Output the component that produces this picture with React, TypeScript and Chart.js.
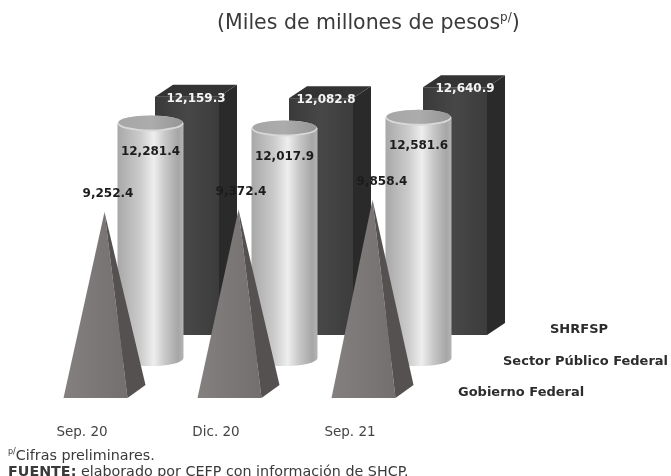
import React, { useEffect, useRef } from "react";
import { Chart, registerables } from "chart.js";

Chart.register(...registerables);

const categories = ["Sep. 20", "Dic. 20", "Sep. 21"];
const shrfsp = [12159.3, 12082.8, 12640.9];
const sectorPublico = [12281.4, 12017.9, 12581.6];
const gobierno = [9252.4, 9372.4, 9858.4];

const FONT = "'DejaVu Sans', sans-serif";
const fmt = (v: number) =>
  v.toLocaleString("en-US", { minimumFractionDigits: 1, maximumFractionDigits: 1 });

const solidsPlugin = {
  id: "solids",
  afterDatasetsDraw(chart: any) {
    const ctx = chart.ctx as CanvasRenderingContext2D;
    const box = chart.getDatasetMeta(0).data;
    const cyl = chart.getDatasetMeta(1).data;
    const pyr = chart.getDatasetMeta(2).data;
    const depthX = 18;
    const depthY = -12;
    ctx.save();

    box.forEach((el: any) => {
      const x0 = el.x + 105 - el.width / 2;
      const x1 = x0 + el.width;
      const g = ctx.createLinearGradient(x0, 0, x1, 0);
      g.addColorStop(0, "#3a3a3a");
      g.addColorStop(0.5, "#474747");
      g.addColorStop(1, "#3c3c3c");
      ctx.fillStyle = g;
      ctx.fillRect(x0, el.y, x1 - x0, el.base - el.y);
      ctx.fillStyle = "#2a2a2a";
      ctx.beginPath();
      ctx.moveTo(x1, el.y);
      ctx.lineTo(x1 + depthX, el.y + depthY);
      ctx.lineTo(x1 + depthX, el.base + depthY);
      ctx.lineTo(x1, el.base);
      ctx.closePath();
      ctx.fill();
      ctx.fillStyle = "#333333";
      ctx.beginPath();
      ctx.moveTo(x0, el.y);
      ctx.lineTo(x0 + depthX, el.y + depthY);
      ctx.lineTo(x1 + depthX, el.y + depthY);
      ctx.lineTo(x1, el.y);
      ctx.closePath();
      ctx.fill();
    });

    cyl.forEach((el: any) => {
      const cx = el.x + 68.5;
      const rx = el.width / 2;
      const ry = 8;
      const g = ctx.createLinearGradient(cx - rx, 0, cx + rx, 0);
      g.addColorStop(0, "#a8a8a8");
      g.addColorStop(0.12, "#b4b4b4");
      g.addColorStop(0.35, "#cccccc");
      g.addColorStop(0.55, "#eeeeee");
      g.addColorStop(0.72, "#c8c8c8");
      g.addColorStop(0.92, "#a6a6a6");
      g.addColorStop(1, "#b4b4b4");
      ctx.fillStyle = g;
      ctx.beginPath();
      ctx.moveTo(cx - rx, el.y);
      ctx.lineTo(cx - rx, el.base);
      ctx.ellipse(cx, el.base, rx, ry, 0, Math.PI, 0, true);
      ctx.lineTo(cx + rx, el.y);
      ctx.closePath();
      ctx.fill();
      ctx.fillStyle = "#d8d8d8";
      ctx.beginPath();
      ctx.ellipse(cx, el.y, rx, ry, 0, 0, Math.PI * 2);
      ctx.fill();
      const t = ctx.createLinearGradient(cx - rx, 0, cx + rx, 0);
      t.addColorStop(0, "#a6a6a6");
      t.addColorStop(0.5, "#acacac");
      t.addColorStop(1, "#959595");
      ctx.fillStyle = t;
      ctx.beginPath();
      ctx.ellipse(cx, el.y - 1, rx - 1, ry - 1, 0, 0, Math.PI * 2);
      ctx.fill();
    });

    pyr.forEach((el: any) => {
      const x0 = el.x + 13.5 - el.width / 2;
      const x1 = x0 + el.width;
      const apex = (x0 + x1 + depthX) / 2;
      const g = ctx.createLinearGradient(x0, 0, x1, 0);
      g.addColorStop(0, "#858080");
      g.addColorStop(1, "#746f6f");
      ctx.fillStyle = g;
      ctx.beginPath();
      ctx.moveTo(x0, el.base);
      ctx.lineTo(x1, el.base);
      ctx.lineTo(apex, el.y);
      ctx.closePath();
      ctx.fill();
      ctx.fillStyle = "#565151";
      ctx.beginPath();
      ctx.moveTo(x1, el.base);
      ctx.lineTo(x1 + depthX, el.base + depthY - 1);
      ctx.lineTo(apex, el.y);
      ctx.closePath();
      ctx.fill();
    });

    ctx.textAlign = "center";
    ctx.textBaseline = "middle";
    ctx.font = `bold 12px ${FONT}`;
    const boxShift = [114, 110, 115];
    const pyrShift = [26, 25, 32];
    ctx.fillStyle = "#f4f4f4";
    box.forEach((el: any, i: number) => ctx.fillText(fmt(shrfsp[i]), el.x + boxShift[i], el.y + 2));
    ctx.fillStyle = "#1c1c1c";
    cyl.forEach((el: any, i: number) => ctx.fillText(fmt(sectorPublico[i]), el.x + 68.5, el.y + 28));
    pyr.forEach((el: any, i: number) => ctx.fillText(fmt(gobierno[i]), el.x + pyrShift[i], el.y - 18));

    ctx.textAlign = "left";
    ctx.font = `bold 13px ${FONT}`;
    ctx.fillStyle = "#2c2c2c";
    ctx.fillText(chart.data.datasets[0].label, 550, 330);
    ctx.fillText(chart.data.datasets[1].label, 503, 362);
    ctx.fillText(chart.data.datasets[2].label, 458, 393);
    ctx.restore();
  },
};

export default function App() {
  const ref = useRef<HTMLCanvasElement | null>(null);
  useEffect(() => {
    document.body.style.margin = "0";
    const chart = new Chart(ref.current as HTMLCanvasElement, {
      type: "bar",
      data: {
        labels: categories,
        datasets: [
          { label: "SHRFSP", data: shrfsp, yAxisID: "yBox", backgroundColor: "transparent", barPercentage: 64 / 134, categoryPercentage: 1 },
          { label: "Sector Público Federal", data: sectorPublico, yAxisID: "yCyl", backgroundColor: "transparent", barPercentage: 66 / 134, categoryPercentage: 1 },
          { label: "Gobierno Federal", data: gobierno, yAxisID: "yPyr", backgroundColor: "transparent", barPercentage: 64 / 134, categoryPercentage: 1 },
        ],
      },
      options: {
        responsive: false,
        animation: false,
        layout: { padding: { left: 15, right: 254, top: 60, bottom: 0 } },
        plugins: { legend: { display: false }, tooltip: { enabled: false } },
        datasets: { bar: { grouped: false } },
        scales: {
          x: {
            grid: { display: false },
            border: { display: false },
            afterFit: (s: any) => { s.height = 76; },
            ticks: { color: "#444444", padding: 16, maxRotation: 0, font: { family: FONT, size: 13.5 } },
          },
          yBox: { display: false, min: -3316, max: 14031 },
          yCyl: { display: false, min: -2199, max: 15602 },
          yPyr: { display: false, min: -99.5, max: 16816 },
        },
      } as any,
      plugins: [solidsPlugin],
    });
    return () => chart.destroy();
  }, []);
  const text: React.CSSProperties = { position: "absolute", fontFamily: FONT, color: "#3a3a3a", whiteSpace: "nowrap" };
  return (
    <div style={{ position: "relative", width: 671, height: 476, overflow: "hidden" }}>
      <canvas ref={ref} width={671} height={476} style={{ display: "block" }} />
      <div style={{ ...text, left: 217, top: 10, fontSize: 20.5 }}>
        (Miles de millones de pesos<sup style={{ fontSize: 12, lineHeight: 0 }}>p/</sup>)
      </div>
      <div style={{ ...text, left: 8, top: 447, fontSize: 14.3 }}>
        <sup style={{ fontSize: 8, lineHeight: 0 }}>p/</sup>Cifras preliminares.
      </div>
      <div style={{ ...text, left: 8, top: 463, fontSize: 14.3 }}>
        <b>FUENTE:</b> elaborado por CEFP con información de SHCP.
      </div>
    </div>
  );
}
